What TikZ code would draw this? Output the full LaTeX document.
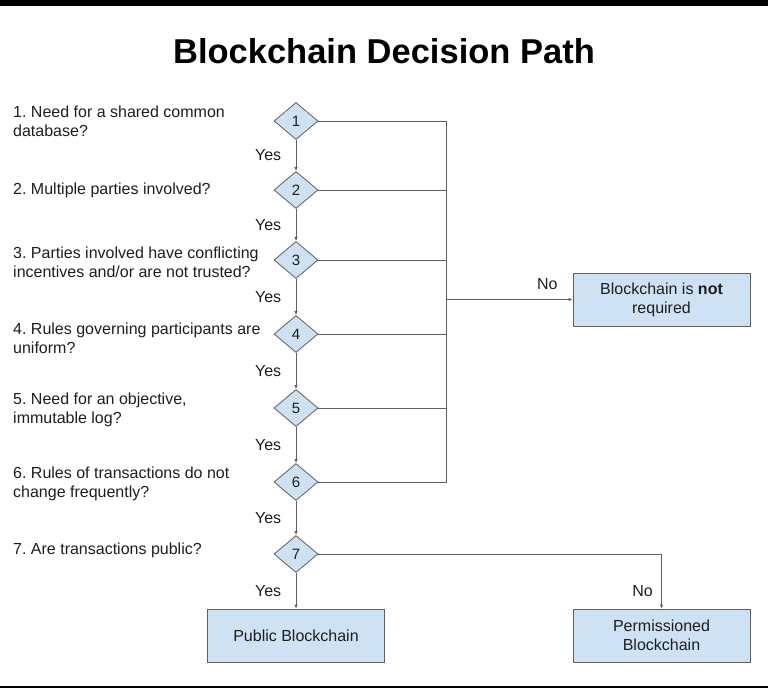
\documentclass[tikz,border=0pt]{standalone}
\usepackage{fontspec}
\setmainfont{Liberation Sans}
\usetikzlibrary{shapes.geometric,arrows.meta}
\definecolor{boxblue}{HTML}{CFE2F3}
\definecolor{linegray}{HTML}{5F5F5F}
\definecolor{textgray}{HTML}{1E1E1E}
\frenchspacing

\begin{document}
\begin{tikzpicture}[x=1pt, y=-1pt,
  every node/.style={text=textgray},
  question/.style={anchor=west, align=left, inner sep=0pt, font=\fontsize{16}{19}\selectfont},
  decision/.style={diamond, draw=linegray, fill=boxblue, line width=0.8pt, minimum width=44pt, minimum height=37pt, inner sep=0pt, font=\fontsize{15}{17}\selectfont},
  box/.style={draw=linegray, fill=boxblue, line width=0.8pt, minimum width=177pt, minimum height=53pt, align=center, font=\fontsize{16}{19}\selectfont},
  line/.style={draw=linegray, line width=0.9pt},
  arrow/.style={line, -{Latex[length=4pt,width=3.5pt]}},
  yes/.style={left=11pt, font=\fontsize{16}{18}\selectfont},
]
  \useasboundingbox (0,0) rectangle (768,688);
  \fill[black] (0,0) rectangle (768,6);
  \fill[black] (0,686) rectangle (768,688);

  \node[anchor=base, font=\fontsize{34.5}{40}\selectfont\bfseries, text=black] (title) at (384,63) {Blockchain Decision Path};

  \node[question] (q1) at (13,121) {1. Need for a shared common\\database?};
  \node[question] (q2) at (13,190) {2. Multiple parties involved?};
  \node[question] (q3) at (13,262) {3. Parties involved have conflicting\\incentives and/or are not trusted?};
  \node[question] (q4) at (13,338) {4. Rules governing participants are\\uniform?};
  \node[question] (q5) at (13,410) {5. Need for an objective,\\immutable log?};
  \node[question] (q6) at (13,484) {6. Rules of transactions do not\\change frequently?};
  \node[question] (q7) at (13,550) {7. Are transactions public?};

  \node[decision] (d1) at (296,121) {1};
  \node[decision] (d2) at (296,190) {2};
  \node[decision] (d3) at (296,260) {3};
  \node[decision] (d4) at (296,334) {4};
  \node[decision] (d5) at (296,408) {5};
  \node[decision] (d6) at (296,482) {6};
  \node[decision] (d7) at (296,554) {7};

  \node[box] (notreq) at (661.5,299.5) {Blockchain is \textbf{not}\\required};
  \node[box] (public) at (296,635.5) {Public Blockchain};
  \node[box] (perm) at (661.5,635.5) {Permissioned\\Blockchain};

  \coordinate (bustop) at (446,121);
  \coordinate (busbot) at (446,482);

  \draw[arrow] (d1) -- node[yes] {Yes} (d2);
  \draw[arrow] (d2) -- node[yes] {Yes} (d3);
  \draw[arrow] (d3) -- node[yes] {Yes} (d4);
  \draw[arrow] (d4) -- node[yes] {Yes} (d5);
  \draw[arrow] (d5) -- node[yes] {Yes} (d6);
  \draw[arrow] (d6) -- node[yes] {Yes} (d7);
  \draw[arrow] (d7) -- node[yes] {Yes} (public);

  \draw[line] (d1.east) -- (bustop) -- (busbot) -- (d6.east);
  \draw[line] (d2.east) -- (d2.east -| bustop);
  \draw[line] (d3.east) -- (d3.east -| bustop);
  \draw[line] (d4.east) -- (d4.east -| bustop);
  \draw[line] (d5.east) -- (d5.east -| bustop);
  \draw[arrow] (notreq.west -| bustop) -- node[pos=0.8, above=6pt, font=\fontsize{16}{18}\selectfont] {No} (notreq.west);

  \draw[arrow] (d7.east) -| node[pos=0.84, left=5pt, font=\fontsize{16}{18}\selectfont] {No} (perm.north);
\end{tikzpicture}
\end{document}
